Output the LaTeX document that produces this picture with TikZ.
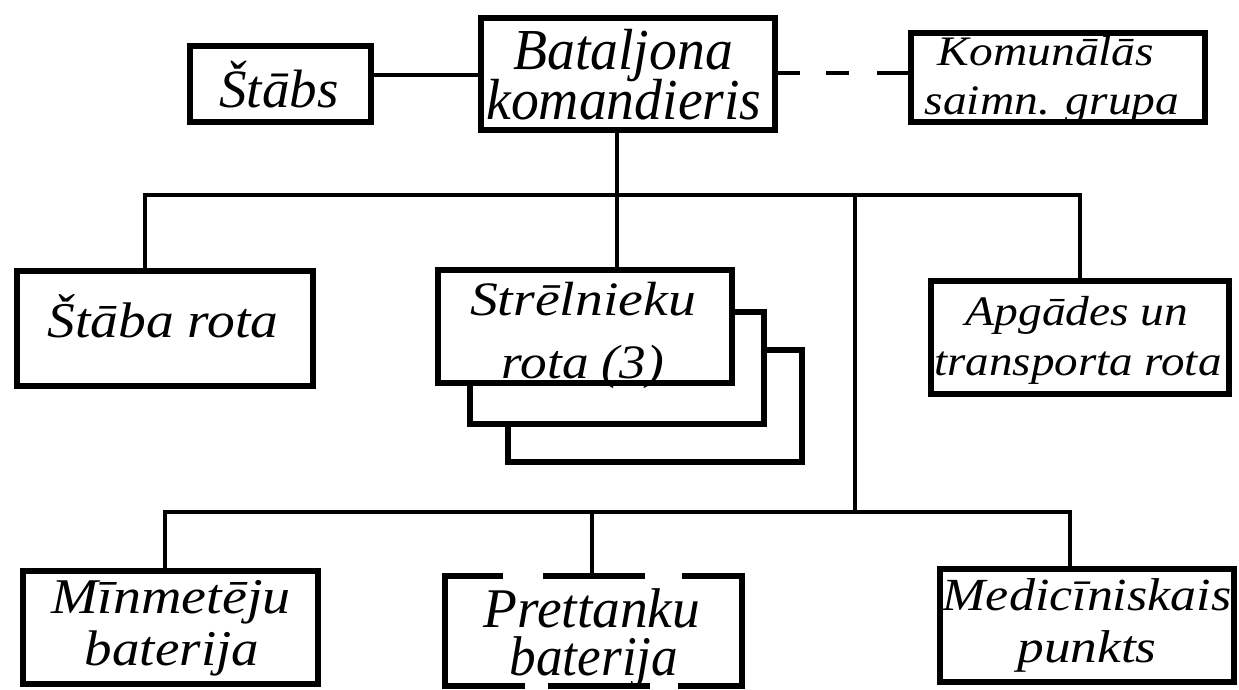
\documentclass[tikz,border=0pt]{standalone}
\usepackage{fontspec}
\setmainfont{Liberation Serif}
\newcommand{\tx}[3]{\fontsize{#1}{#1}\selectfont\scalebox{#2}[1]{#3}}
\begin{document}
\begin{tikzpicture}[x=1pt,y=-1pt,
  box/.style={draw, line width=6.5pt, fill=white, inner sep=0pt},
  conn/.style={line width=3.5pt},
  lbl/.style={anchor=base, inner sep=0pt, font=\itshape}]
\useasboundingbox (0,0) rectangle (1239,690);
% boxes
\node[box, minimum width=181pt, minimum height=76pt] (stabs) at (280.5,84) {};
\node[box, minimum width=294pt, minimum height=112pt] (bk) at (628,74) {};
\node[box, minimum width=294pt, minimum height=89pt] (kom) at (1058,77.5) {};
\node[box, minimum width=296pt, minimum height=115pt] (stabarota) at (165,328.5) {};
\node[box, minimum width=294pt, minimum height=112pt] (strel3) at (655,406) {};
\node[box, minimum width=294pt, minimum height=112pt] (strel2) at (617,368) {};
\node[box, minimum width=294pt, minimum height=113pt] (strel) at (585,326.5) {};
\node[box, minimum width=298pt, minimum height=113pt] (apg) at (1080,337.5) {};
\node[box, minimum width=295pt, minimum height=113pt] (minm) at (170.5,627.5) {};
\node[box, minimum width=297pt, minimum height=110pt] (pret) at (593.5,631) {};
\node[box, minimum width=294pt, minimum height=113pt] (med) at (1087,625.5) {};
% gaps in the Prettanku border
\fill[white] (503,570) rectangle (543,580);
\fill[white] (645,570) rectangle (682,580);
\fill[white] (525,681) rectangle (548,690);
\fill[white] (650,681) rectangle (678,690);
% connectors
\coordinate (busL) at (145,195);
\coordinate (busR) at (1080,195);
\coordinate (trunkT) at (855,195);
\coordinate (trunkB) at (855,512);
\coordinate (lowL) at (165,512);
\coordinate (lowR) at (1070,512);
\draw[conn] (stabs.east |- 0,75) -- (bk.west |- 0,75);
\draw[conn, dash pattern=on 22pt off 26pt on 23pt off 28pt on 40pt] (bk.east |- 0,73) -- (kom.west |- 0,73);
\draw[conn] (bk.south -| 617,0) -- (strel.north -| 617,0);
\draw[conn] (stabarota.north -| busL) -- (busL) -- (busR) -- (apg.north);
\draw[conn] (trunkT) -- (trunkB);
\draw[conn] (minm.north -| lowL) -- (lowL) -- (lowR) -- (med.north -| lowR);
\draw[conn] (pret.north -| 592,0) -- (592,512);
% labels
\node[lbl] (t1) at (279,108) {\tx{54}{1.02}{Štābs}};
\node[lbl] (t2) at (623,70) {\tx{58}{0.96}{Bataljona}};
\node[lbl] (t3) at (624,120) {\tx{58}{0.96}{komandieris}};
\node[lbl] (t4) at (1046,66) {\tx{42}{1.13}{Komunālās}};
\node[lbl] (t5) at (1052,114) {\tx{42}{1.13}{saimn. grupa}};
\node[lbl] (t6) at (163,337) {\tx{50}{1.11}{Štāba rota}};
\node[lbl] (t7) at (583,315) {\tx{48}{1.16}{Strēlnieku}};
\node[lbl] (t8) at (583,378) {\tx{48}{1.11}{rota (3)}};
\node[lbl] (t9) at (1077,325) {\tx{42}{1.13}{Apgādes un}};
\node[lbl] (t10) at (1078,375) {\tx{42}{1.12}{transporta rota}};
\node[lbl] (t11) at (171,613) {\tx{50}{1.12}{Mīnmetēju}};
\node[lbl] (t12) at (172,665) {\tx{50}{1.10}{baterija}};
\node[lbl] (t13) at (592,627) {\tx{56}{0.99}{Prettanku}};
\node[lbl] (t14) at (594,675) {\tx{56}{0.95}{baterija}};
\node[lbl] (t15) at (1087,610) {\tx{46}{1.13}{Medicīniskais}};
\node[lbl] (t16) at (1087,662) {\tx{46}{1.16}{punkts}};
\end{tikzpicture}
\end{document}
